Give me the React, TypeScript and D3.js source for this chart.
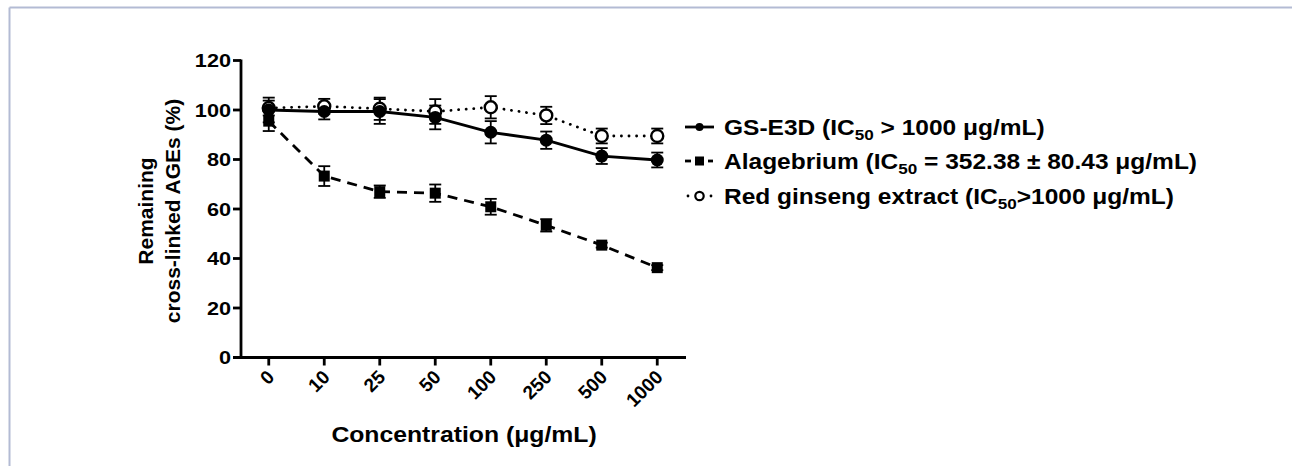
import React from "react";
import * as d3 from "d3";

const categories = ["0", "10", "25", "50", "100", "250", "500", "1000"];
const gsValues = [100, 99.4, 99.4, 97, 91, 87.8, 81.4, 79.8];
const gsErrors = [5, 3.2, 5, 4.8, 4.5, 3.5, 3.2, 3];
const alValues = [95.5, 73.3, 67, 66.4, 60.9, 53.4, 45.4, 36.3];
const alErrors = [4, 4, 2.5, 3.5, 3.2, 2.5, 1, 1];
const rgValues = [100.8, 101.5, 100.5, 99.4, 101.1, 97.8, 89.5, 89.5];
const rgErrors = [3, 3, 4.5, 5, 4.5, 3.5, 3, 3];
const yTicks = [0, 20, 40, 60, 80, 100, 120];

const FONT = "'Liberation Sans', Arial, sans-serif";
const SX = 1.14;

export default function App() {
  const W = 1292, H = 466;
  const x = d3.scalePoint<string>().domain(categories).range([241, 685]).padding(0.5);
  const y = d3.scaleLinear().domain([0, 120]).range([357.5, 60.5]);
  const line = d3.line<number>().x((_, i) => x(categories[i])!).y((d) => y(d));

  const errBars = (vals: number[], errs: number[], key: string) =>
    vals.map((v, i) => {
      const cx = x(categories[i])!;
      return (
        <g key={key + i} stroke="#000" strokeWidth={1.8}>
          <line x1={cx} x2={cx} y1={y(v - errs[i])} y2={y(v + errs[i])} />
          <line x1={cx - 6} x2={cx + 6} y1={y(v - errs[i])} y2={y(v - errs[i])} />
          <line x1={cx - 6} x2={cx + 6} y1={y(v + errs[i])} y2={y(v + errs[i])} />
        </g>
      );
    });

  const legendX = 685;
  const legendRows = [127, 161, 196];
  const textX = 724;

  return (
    <svg width={W} height={H} style={{ position: "absolute", left: 0, top: 0, background: "#fff" }}>
      <rect x={0} y={0} width={W} height={H} fill="#fff" />
      <line x1={9.5} x2={W} y1={7.5} y2={7.5} stroke="#b3bbd4" strokeWidth={2} />
      <line x1={9.5} x2={9.5} y1={7.5} y2={H} stroke="#b3bbd4" strokeWidth={2} />

      {/* axes */}
      <line x1={241} x2={241} y1={y(120) - 1} y2={y(0)} stroke="#000" strokeWidth={2.8} />
      <line x1={233} x2={686} y1={y(0)} y2={y(0)} stroke="#000" strokeWidth={2.8} />
      {yTicks.map((t) => (
        <g key={"yt" + t}>
          <line x1={233} x2={241} y1={y(t)} y2={y(t)} stroke="#000" strokeWidth={2.8} />
          <text
            transform={`translate(231,${y(t)}) scale(${SX},1)`}
            dy="0.36em"
            textAnchor="end"
            fontFamily={FONT}
            fontWeight="bold"
            fontSize={19}
          >
            {t}
          </text>
        </g>
      ))}
      {categories.map((c) => (
        <g key={"xt" + c}>
          <line x1={x(c)} x2={x(c)} y1={y(0)} y2={y(0) + 8} stroke="#000" strokeWidth={2.8} />
          <text
            transform={`translate(${x(c)! + 2},${y(0) + 16}) rotate(-45)`}
            textAnchor="end"
            dy="0.35em"
            fontFamily={FONT}
            fontWeight="bold"
            fontSize={19}
          >
            {c}
          </text>
        </g>
      ))}
      <text
        transform={`translate(464,442) scale(1.1,1)`}
        textAnchor="middle"
        fontFamily={FONT}
        fontWeight="bold"
        fontSize={22.5}
      >
        Concentration (μg/mL)
      </text>
      <g transform="translate(0,211) rotate(-90)" fontFamily={FONT} fontWeight="bold" fontSize={21} textAnchor="middle">
        <text x={0} y={153}>Remaining</text>
        <text x={0} y={180}>cross-linked AGEs (%)</text>
      </g>

      {/* lines */}
      <path d={line(rgValues)!} fill="none" stroke="#000" strokeWidth={2.8} strokeDasharray="0.1,7.5" strokeLinecap="round" />
      <path d={line(alValues)!} fill="none" stroke="#000" strokeWidth={2.8} strokeDasharray="10,7" />
      <path d={line(gsValues)!} fill="none" stroke="#000" strokeWidth={2.8} />

      {errBars(rgValues, rgErrors, "rg")}
      {errBars(alValues, alErrors, "al")}
      {errBars(gsValues, gsErrors, "gs")}

      {rgValues.map((v, i) => (
        <circle key={"rgm" + i} cx={x(categories[i])} cy={y(v)} r={6} fill="#fff" stroke="#000" strokeWidth={2.4} />
      ))}
      {alValues.map((v, i) => (
        <rect key={"alm" + i} x={x(categories[i])! - 5.5} y={y(v) - 5.5} width={11} height={11} fill="#000" />
      ))}
      {gsValues.map((v, i) => (
        <circle key={"gsm" + i} cx={x(categories[i])} cy={y(v)} r={6.5} fill="#000" />
      ))}

      {/* legend */}
      <line x1={legendX} x2={legendX + 29} y1={legendRows[0]} y2={legendRows[0]} stroke="#000" strokeWidth={2.8} />
      <circle cx={legendX + 14.5} cy={legendRows[0]} r={4} fill="#000" />

      <line x1={legendX} x2={legendX + 6} y1={legendRows[1]} y2={legendRows[1]} stroke="#000" strokeWidth={2.8} />
      <line x1={legendX + 23} x2={legendX + 28} y1={legendRows[1]} y2={legendRows[1]} stroke="#000" strokeWidth={2.8} />
      <rect x={legendX + 10} y={legendRows[1] - 4.5} width={9} height={9} fill="#000" />

      <circle cx={legendX + 3} cy={legendRows[2]} r={1.4} fill="#000" />
      <circle cx={legendX + 26} cy={legendRows[2]} r={1.4} fill="#000" />
      <circle cx={legendX + 14.5} cy={legendRows[2]} r={4.2} fill="#fff" stroke="#000" strokeWidth={2.2} />

      <g fontFamily={FONT} fontWeight="bold" fontSize={21.5}>
        <text transform={`translate(${textX},${legendRows[0]}) scale(${SX},1)`} dy="0.36em">
          GS-E3D (IC<tspan fontSize={15} dy="5">50</tspan>
          <tspan dy="-5"> &gt; 1000 μg/mL)</tspan>
        </text>
        <text transform={`translate(${textX},${legendRows[1]}) scale(${SX},1)`} dy="0.36em">
          Alagebrium (IC<tspan fontSize={15} dy="5">50</tspan>
          <tspan dy="-5"> = 352.38 ± 80.43 μg/mL)</tspan>
        </text>
        <text transform={`translate(${textX},${legendRows[2]}) scale(${SX},1)`} dy="0.36em">
          Red ginseng extract (IC<tspan fontSize={15} dy="5">50</tspan>
          <tspan dy="-5">&gt;1000 μg/mL)</tspan>
        </text>
      </g>
    </svg>
  );
}
